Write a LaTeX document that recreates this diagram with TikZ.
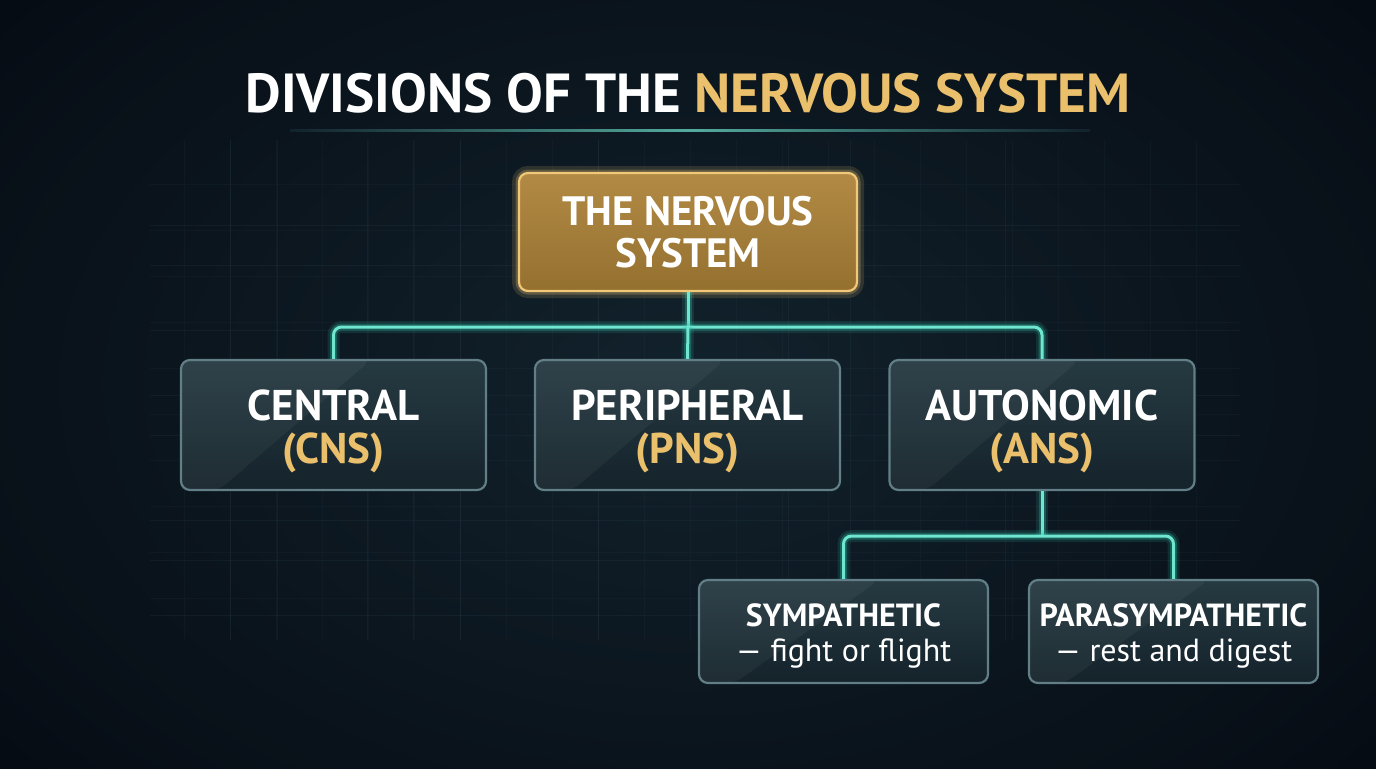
\documentclass[tikz,border=0pt]{standalone}
\usepackage{fontspec}
\setmainfont{PT Sans}
\usetikzlibrary{calc}
\definecolor{bgIn}{HTML}{12222C}
\definecolor{bgOut}{HTML}{060C14}
\definecolor{gridc}{HTML}{4A6A78}
\definecolor{teal}{HTML}{6FE6D0}
\definecolor{tealG}{HTML}{2FBFA8}
\definecolor{goldT}{HTML}{EAC06C}
\definecolor{goldTop}{HTML}{B28A45}
\definecolor{goldBot}{HTML}{94702F}
\definecolor{goldB}{HTML}{F0C878}
\definecolor{boxTop}{HTML}{263A42}
\definecolor{boxBot}{HTML}{15232B}
\definecolor{boxB}{HTML}{627E86}
\newcommand{\boxtext}[3]{\parbox{#1}{\centering\vspace*{#2}#3}}
\begin{document}
\begin{tikzpicture}[x=0.5pt,y=-0.5pt,
  conn/.style={draw=teal, line width=1.5pt, rounded corners=4pt,
    preaction={draw=tealG, line width=6pt, opacity=0.15},
    preaction={draw=tealG, line width=3.5pt, opacity=0.3}},
  shine/.style={path picture={\fill[white,opacity=0.045]
      (path picture bounding box.north west) -- ([xshift=#1]path picture bounding box.north west)
      -- ([xshift=0.2*#1]path picture bounding box.south west) -- (path picture bounding box.south west) -- cycle;}},
  glass/.style={draw=boxB, line width=1.1pt, rounded corners=4.5pt, top color=boxTop, bottom color=boxBot,
    text=white, align=center, inner sep=0pt},
  l2/.style={glass, shine=95pt, minimum width=152.5pt, minimum height=65pt,
    font=\fontsize{21.5}{21.5}\selectfont\bfseries},
  l3/.style={glass, shine=90pt, minimum width=144.5pt, minimum height=51.5pt,
    font=\fontsize{16}{17.5}\selectfont},
  goldbox/.style={draw=goldB, line width=1.1pt, rounded corners=4.5pt, top color=goldTop, bottom color=goldBot,
    text=white, align=center, inner sep=0pt, minimum width=169pt, minimum height=59pt,
    font=\fontsize{20.5}{21}\selectfont\bfseries,
    preaction={draw=goldB, line width=7pt, opacity=0.15},
    preaction={draw=goldB, line width=3.5pt, opacity=0.25}},
  title/.style={text=white, font=\fontsize{27.5}{30}\selectfont\bfseries, inner sep=0pt}
]
\useasboundingbox (0,0) rectangle (1376,768);
% background
\begin{scope}
\clip (0,0) rectangle (1376,768);
\shade[inner color=bgIn, outer color=bgOut] (-200,-200) rectangle (1576,968);
\end{scope}
% grid
\begin{scope}
\clip (150,140) rectangle (1240,640);
\draw[gridc, opacity=0.07, line width=0.4pt] (138,138) grid[step=23pt] (1260,660);
\foreach \x in {230,277,367,413,460,598,788,850,1005} \draw[gridc, opacity=0.11, line width=0.5pt] (\x,140) -- (\x,640);
\foreach \y in {225,265,330,395,435,520,560,615} \draw[gridc, opacity=0.11, line width=0.5pt] (150,\y) -- (1240,\y);
\end{scope}
% title
\node[title] (ttl) at (688,93) {DIVISIONS OF THE \textcolor{goldT}{NERVOUS SYSTEM}};
\shade[left color=bgIn, right color=bgIn, middle color=teal!70!bgIn] (290,129.5) rectangle (1090,131.5);
% nodes
\node[goldbox] (top) at (688,232) {THE NERVOUS\\SYSTEM};
\node[l2] (cns) at (333.5,425) {\boxtext{150pt}{6pt}{CENTRAL\\\textcolor{goldT}{(CNS)}}};
\node[l2] (pns) at (687.5,425) {\boxtext{150pt}{6pt}{PERIPHERAL\\\textcolor{goldT}{(PNS)}}};
\node[l2] (ans) at (1042,425) {\boxtext{150pt}{6pt}{AUTONOMIC\\\textcolor{goldT}{(ANS)}}};
\node[l3] (sym) at (843.5,631.5) {\boxtext{140pt}{4pt}{\textbf{SYMPATHETIC}\\— fight or flight}};
\node[l3] (para) at (1173.5,631.5) {\boxtext{140pt}{4pt}{\textbf{PARASYMPATHETIC}\\— rest and digest}};
% connectors
\coordinate (bus) at (688,327);
\coordinate (bus2) at (1042,536);
\draw[conn] (top.south) -- (bus);
\draw[conn] (cns.north) |- (bus) -| (ans.north);
\draw[conn] (bus) -- (pns.north);
\draw[conn] (ans.south) -- (bus2);
\draw[conn] (sym.north) |- (bus2) -| (para.north);
\end{tikzpicture}
\end{document}
